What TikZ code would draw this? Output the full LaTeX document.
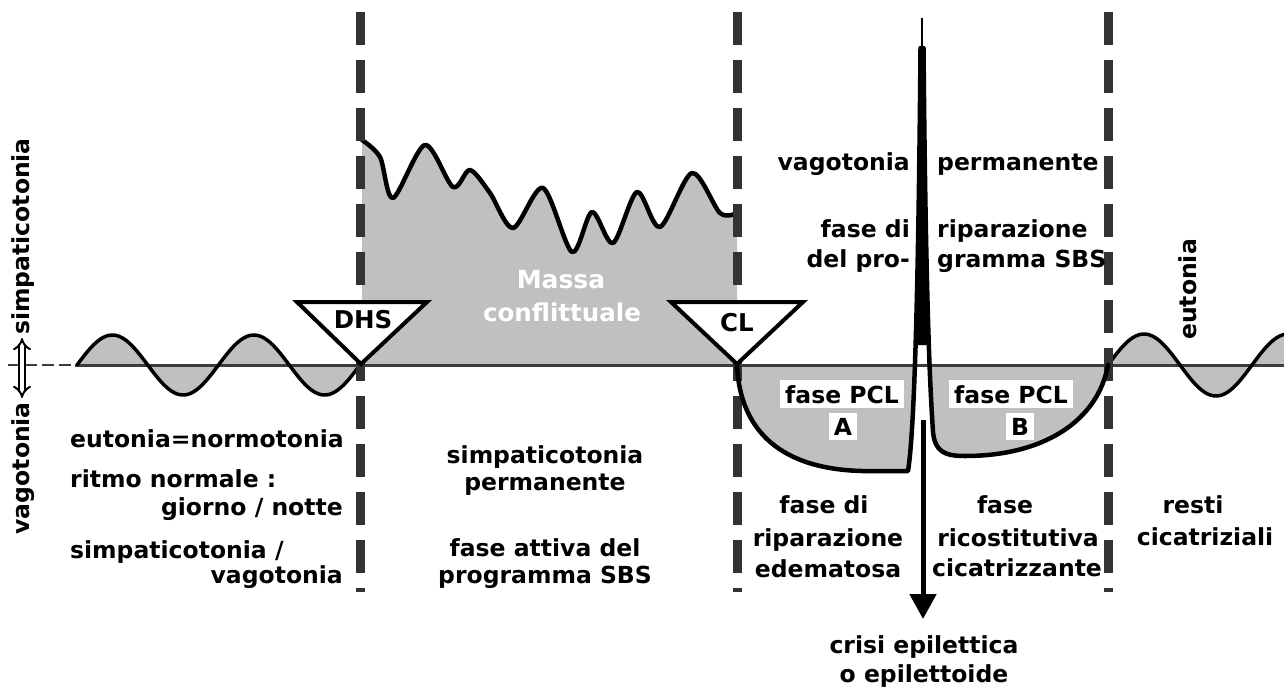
\documentclass[tikz,border=0pt]{standalone}
\usepackage{fontspec}
\setmainfont{DejaVu Sans}
\usetikzlibrary{arrows.meta}
\definecolor{fillgray}{HTML}{C0C0C0}
\definecolor{dashgray}{HTML}{333333}
\definecolor{basegray}{HTML}{3C3C3C}
\begin{document}
\begin{tikzpicture}[x=1pt,y=-1pt,
  lbl/.style={font=\fontsize{23.5}{28}\selectfont\bfseries, inner sep=0pt},
  vdash/.style={draw=dashgray, line width=9pt, dash pattern=on 33pt off 15pt},
  curve/.style={draw=black, line width=4.5pt, line join=round, line cap=round},
  tri/.style={draw=black, line width=4pt, fill=white, line join=miter},
  whitebox/.style={lbl, fill=white, inner xsep=5pt, inner ysep=5pt}
]
\useasboundingbox[fill=white] (0,0) rectangle (1284,688);

% ---- gray fills
\fill[fillgray] plot[domain=77:360, samples=120] (\x,{365-30*sin(2.5442*(\x-77))}) -- cycle;
\fill[fillgray] plot[domain=1108:1284, samples=80] (\x,{365-31*sin(2.5*(\x-1108))}) -- (1284,365) -- cycle;
\fill[fillgray] plot[smooth,tension=0.5] coordinates {(362,140) (380,157) (393,198) (425,145) (453,187) (470,170) (490,193) (513,228) (543,188) (572,252) (592,212) (613,243) (637,192) (660,227) (692,173) (720,213) (737,213)} -- (737,365) -- (362,365) -- cycle;
\fill[fillgray] (737,365) .. controls (740,432) and (782,469) .. (862,471) -- (908,471) -- (912,430) -- (914.5,365) -- cycle;
\fill[fillgray] (930,365) -- (933,432) .. controls (935,452) and (945,456) .. (965,456) .. controls (1045,456) and (1098,420) .. (1108,365) -- cycle;

% ---- baseline
\draw[basegray, line width=3pt] (75,365) -- (1284,365);
\draw[basegray, line width=2pt, dash pattern=on 12pt off 5pt] (8,365) -- (75,365);

% ---- waves and curves
\draw[curve, line width=3.5pt] plot[domain=77:360, samples=120] (\x,{365-30*sin(2.5442*(\x-77))});
\draw[curve, line width=3.5pt] plot[domain=1108:1284, samples=80] (\x,{365-31*sin(2.5*(\x-1108))});
\draw[curve] plot[smooth,tension=0.5] coordinates {(362,140) (380,157) (393,198) (425,145) (453,187) (470,170) (490,193) (513,228) (543,188) (572,252) (592,212) (613,243) (637,192) (660,227) (692,173) (720,213) (737,213)};

% ---- vertical dashed lines
\draw[vdash] (360,12) -- (360,592);
\draw[vdash] (737,12) -- (737,592);
\draw[vdash] (1108,12) -- (1108,592);

% ---- PCL curve with spike
\fill[black] (916.5,345) -- (918,300) -- (920.5,48) -- (923.5,48) -- (926.5,300) -- (928.5,345) -- cycle;
\draw[curve] (737,365) .. controls (740,432) and (782,469) .. (862,471) -- (908,471) .. controls (913,440) and (918,340) .. (920.5,48) -- (923.5,48) .. controls (926,330) and (931,400) .. (933,432) .. controls (935,452) and (945,456) .. (965,456) .. controls (1045,456) and (1098,420) .. (1108,365);
\draw[black, line width=2pt] (922,48) -- (922,18);

% ---- triangles
\filldraw[tri] (297,302) -- (427,302) -- (361,364) -- cycle;
\filldraw[tri] (671,302) -- (803,302) -- (737,364) -- cycle;
\node[lbl, font=\fontsize{24.5}{28}\selectfont\bfseries, anchor=base] (dhs) at (363,328) {DHS};
\node[lbl, font=\fontsize{24.5}{28}\selectfont\bfseries, anchor=base] (cl) at (737,331) {CL};

% ---- arrow to crisis
\coordinate (spikefoot) at (923,420);
\coordinate (arrowtip) at (923,619);
\draw[line width=5pt, -{Triangle[width=26pt,length=25pt]}] (spikefoot) -- (arrowtip);

% ---- left rotated axis label
\node[lbl, rotate=90, anchor=base west] (simpax) at (29,335) {simpaticotonia};
\node[lbl, rotate=90, anchor=base east] (vagoax) at (29,402) {vagotonia};
\coordinate (axlo) at (22,398);
\coordinate (axhi) at (22,338);
\draw[line width=2pt, double distance=4pt, {Implies}-{Implies}] (axlo) -- (axhi);

% ---- texts
\node[lbl, font=\fontsize{25}{28}\selectfont\bfseries, text=white, anchor=base] (massa) at (561,288) {Massa};
\node[lbl, font=\fontsize{24.5}{28}\selectfont\bfseries, text=white, anchor=base] (confl) at (562,321) {conflittuale};

\node[lbl, anchor=base west] (eut) at (70,447) {eutonia=normotonia};
\node[lbl, anchor=base west] (ritmo) at (70,487) {ritmo normale :};
\node[lbl, anchor=base east] (giorno) at (343,515) {giorno / notte};
\node[lbl, anchor=base west] (simpvago) at (70,558) {simpaticotonia /};
\node[lbl, anchor=base east] (vago2) at (343,583) {vagotonia};

\node[lbl, anchor=base] (sp1) at (545,463) {simpaticotonia};
\node[lbl, anchor=base] (sp2) at (545,490) {permanente};
\node[lbl, anchor=base] (fa1) at (545,556) {fase attiva del};
\node[lbl, anchor=base] (fa2) at (545,583) {programma SBS};

\node[lbl, anchor=base east] (vg1) at (910,170) {vagotonia};
\node[lbl, anchor=base west] (vg2) at (937,170) {permanente};
\node[lbl, anchor=base east] (fr1) at (910,237) {fase di};
\node[lbl, anchor=base east] (fr2) at (910,267) {del pro-};
\node[lbl, anchor=base west] (fr3) at (937,237) {riparazione};
\node[lbl, anchor=base west] (fr4) at (937,267) {gramma SBS};

\node[whitebox, anchor=base] (pa1) at (842,403) {fase PCL};
\node[whitebox, anchor=base] (pa2) at (843,435) {A};
\node[whitebox, anchor=base] (pb1) at (1011,403) {fase PCL};
\node[whitebox, anchor=base] (pb2) at (1020,435) {B};

\node[lbl, anchor=base] (re1) at (824,513) {fase di};
\node[lbl, anchor=base] (re2) at (828,546) {riparazione};
\node[lbl, anchor=base] (re3) at (828,577) {edematosa};
\node[lbl, anchor=base] (rc1) at (1005,513) {fase};
\node[lbl, anchor=base] (rc2) at (1018,546) {ricostitutiva};
\node[lbl, anchor=base] (rc3) at (1017,576) {cicatrizzante};

\node[lbl, anchor=base] (crisi1) at (924,653) {crisi epilettica};
\node[lbl, anchor=base] (crisi2) at (924,682) {o epilettoide};

\node[lbl, anchor=base] (resti1) at (1193,513) {resti};
\node[lbl, anchor=base] (resti2) at (1205,545) {cicatriziali};
\node[lbl, rotate=90, anchor=base west] (eutR) at (1196,340) {eutonia};
\end{tikzpicture}
\end{document}
